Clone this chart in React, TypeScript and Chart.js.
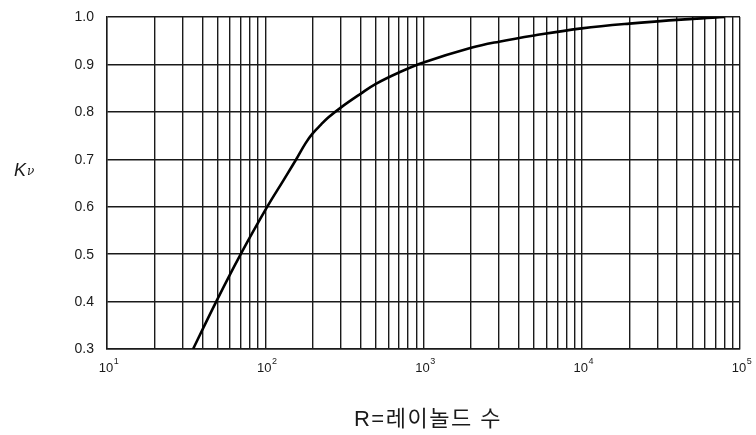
import React, { useEffect, useRef } from 'react';
import { Chart, registerables } from 'chart.js';

Chart.register(...registerables);

// Reynolds number (x, log scale) and K_nu (y)
const reynolds = [35, 49, 70, 103, 130, 157, 180, 200, 225, 250, 300, 400, 500, 700, 1000, 2000, 3000, 5000, 10000, 20000, 50000, 80000];
const kv = [0.30, 0.40, 0.50, 0.60, 0.655, 0.70, 0.734, 0.755, 0.773, 0.788, 0.809, 0.838, 0.859, 0.883, 0.904, 0.935, 0.948, 0.961, 0.976, 0.986, 0.996, 1.0];

const xTickExponents = [1, 2, 3, 4, 5];
const xMinorMantissas = [1, 2, 3, 4, 5, 6, 7, 8, 9];
const yTicks = [0.3, 0.4, 0.5, 0.6, 0.7, 0.8, 0.9, 1.0];

const xTitle = 'R=레이놀드 수';
const yTitleMain = 'K';
const yTitleSub = 'ν';

const INK = '#1a1a1a';
const FONT = '"Liberation Sans", Arial, "Noto Sans CJK KR", sans-serif';

const labelPlugin = {
  id: 'customLabels',
  afterDraw(chart: any) {
    const ctx = chart.ctx;
    const xs = chart.scales.x;
    const ys = chart.scales.y;
    const area = chart.chartArea;
    ctx.save();
    ctx.fillStyle = INK;

    // y tick labels
    ctx.font = `14px ${FONT}`;
    ctx.textAlign = 'right';
    ctx.textBaseline = 'middle';
    yTicks.forEach((v) => {
      ctx.fillText(v.toFixed(1), area.left - 13, ys.getPixelForValue(v) + 0.5);
    });

    // x tick labels: 10 with superscript exponent
    xTickExponents.forEach((e) => {
      const px = xs.getPixelForValue(Math.pow(10, e));
      ctx.font = `13px ${FONT}`;
      ctx.textAlign = 'center';
      ctx.textBaseline = 'alphabetic';
      ctx.fillText('10', px - 1, area.bottom + 23);
      const w = ctx.measureText('10').width;
      ctx.font = `9px ${FONT}`;
      ctx.textAlign = 'left';
      ctx.fillText(String(e), px - 1 + w / 2 + 0.5, area.bottom + 15);
    });

    // y title: italic K with nu subscript
    ctx.textAlign = 'left';
    ctx.textBaseline = 'alphabetic';
    ctx.font = `italic 18px ${FONT}`;
    ctx.fillText(yTitleMain, 14, 176);
    const kw = ctx.measureText(yTitleMain).width;
    ctx.font = `italic 12px "DejaVu Serif", serif`;
    ctx.fillText(yTitleSub, 14 + kw + 1, 175);

    // x title
    ctx.font = `22px ${FONT}`;
    ctx.textAlign = 'center';
    (ctx as any).letterSpacing = '1.5px';
    ctx.fillText(xTitle, 428, 426);
    ctx.restore();
  },
};

export default function App() {
  const canvasRef = useRef<HTMLCanvasElement | null>(null);

  useEffect(() => {
    if (!canvasRef.current) return;
    const chart = new Chart(canvasRef.current, {
      type: 'line',
      data: {
        datasets: [
          {
            data: reynolds.map((r, i) => ({ x: r, y: kv[i] })),
            borderColor: '#000',
            borderWidth: 2.6,
            pointRadius: 0,
            fill: false,
            tension: 0.4,
          },
        ],
      },
      options: {
        animation: false,
        responsive: false,
        devicePixelRatio: 1,
        layout: { padding: { left: 107, right: 16, top: 17, bottom: 86 } },
        plugins: { legend: { display: false }, tooltip: { enabled: false } },
        scales: {
          x: {
            type: 'logarithmic',
            min: 10,
            max: 100000,
            afterBuildTicks: (scale: any) => {
              const ticks: any[] = [];
              xTickExponents.slice(0, -1).forEach((e) => {
                xMinorMantissas.forEach((m) => ticks.push({ value: m * Math.pow(10, e) }));
              });
              ticks.push({ value: Math.pow(10, xTickExponents[xTickExponents.length - 1]) });
              scale.ticks = ticks;
            },
            ticks: { display: false },
            grid: { color: INK, lineWidth: 1.4, drawTicks: false },
            border: { display: true, color: INK, width: 1.4 },
          },
          y: {
            type: 'linear',
            min: 0.3,
            max: 1.0,
            afterBuildTicks: (scale: any) => {
              scale.ticks = yTicks.map((v) => ({ value: v }));
            },
            ticks: { display: false },
            grid: { color: INK, lineWidth: 1.4, drawTicks: false },
            border: { display: true, color: INK, width: 1.4 },
          },
        },
      },
      plugins: [labelPlugin],
    } as any);
    return () => chart.destroy();
  }, []);

  return (
    <div style={{ position: 'fixed', left: 0, top: 0, width: 756, height: 435, background: '#fff' }}>
      <canvas ref={canvasRef} width={756} height={435} style={{ width: 756, height: 435, display: 'block' }} />
    </div>
  );
}
